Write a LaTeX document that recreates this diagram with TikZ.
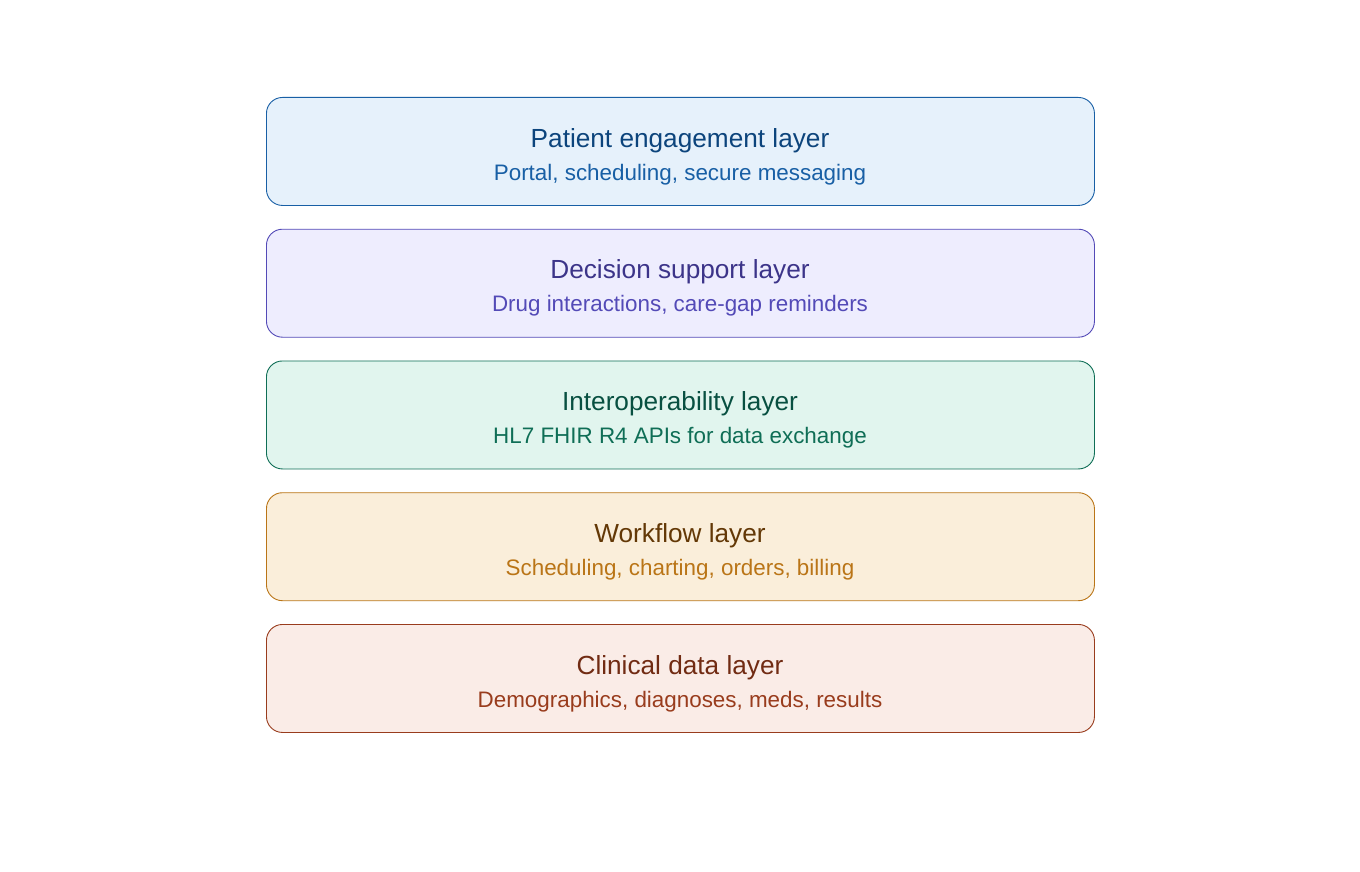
\documentclass[tikz,border=0pt]{standalone}
\usepackage{fontspec}
\setmainfont{Liberation Sans}
\definecolor{bluefill}{HTML}{E6F1FB}\definecolor{bluedraw}{HTML}{185FA5}\definecolor{bluetitle}{HTML}{0C447C}
\definecolor{purpfill}{HTML}{EEEDFE}\definecolor{purpdraw}{HTML}{534AB7}\definecolor{purptitle}{HTML}{3C3489}
\definecolor{tealfill}{HTML}{E1F5EE}\definecolor{tealdraw}{HTML}{0F6E56}\definecolor{tealtitle}{HTML}{085041}
\definecolor{ambfill}{HTML}{FAEEDA}\definecolor{ambdraw}{HTML}{BA7517}\definecolor{ambtitle}{HTML}{633806}
\definecolor{corfill}{HTML}{FAECE7}\definecolor{cordraw}{HTML}{993C1D}\definecolor{cortitle}{HTML}{712B13}
\tikzset{
  layerbox/.style={draw, line width=0.9pt, rounded corners=16pt, minimum width=828pt, minimum height=108pt, inner sep=0pt, anchor=north west},
  titletext/.style={font=\fontsize{26.2}{30}\selectfont, anchor=base, inner sep=0pt},
  subtext/.style={font=\fontsize{22.4}{26}\selectfont, anchor=base, inner sep=0pt},
}
\begin{document}
\begin{tikzpicture}[x=1pt,y=-1pt]
\useasboundingbox (0,0) rectangle (1360,872);
\node[layerbox, fill=bluefill, draw=bluedraw] (b1) at (266,97) {};
\node[titletext, text=bluetitle] (t1) at (680,147) {Patient engagement layer};
\node[subtext, text=bluedraw] (s1) at (680,180) {Portal, scheduling, secure messaging};

\node[layerbox, fill=purpfill, draw=purpdraw] (b2) at (266,228.75) {};
\node[titletext, text=purptitle] (t2) at (680,278.75) {Decision support layer};
\node[subtext, text=purpdraw] (s2) at (680,311.75) {Drug interactions, care-gap reminders};

\node[layerbox, fill=tealfill, draw=tealdraw] (b3) at (266,360.5) {};
\node[titletext, text=tealtitle] (t3) at (680,410.5) {Interoperability layer};
\node[subtext, text=tealdraw] (s3) at (680,443.5) {HL7 FHIR R4 APIs for data exchange};

\node[layerbox, fill=ambfill, draw=ambdraw] (b4) at (266,492.25) {};
\node[titletext, text=ambtitle] (t4) at (680,542.25) {Workflow layer};
\node[subtext, text=ambdraw] (s4) at (680,575.25) {Scheduling, charting, orders, billing};

\node[layerbox, fill=corfill, draw=cordraw] (b5) at (266,624) {};
\node[titletext, text=cortitle] (t5) at (680,674) {Clinical data layer};
\node[subtext, text=cordraw] (s5) at (680,707) {Demographics, diagnoses, meds, results};
\end{tikzpicture}
\end{document}
